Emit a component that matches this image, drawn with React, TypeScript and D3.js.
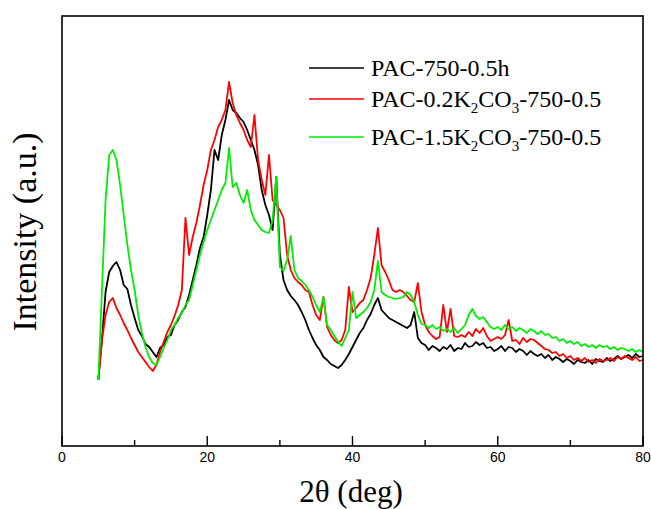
import React from 'react';
import * as d3 from 'd3';

// 2theta grid: 5 .. 80 deg, 0.5 deg step
const angles = d3.range(5, 80.001, 0.5);

const pac750 = [
  66, 106, 154, 174, 180, 184, 176, 161, 157, 141,
  128, 116, 110, 102, 99, 94, 89, 98, 101, 109,
  111, 121, 126, 134, 139, 151, 166, 181, 198, 209,
  231, 256, 296, 286, 311, 326, 346, 336, 333, 328,
  324, 316, 306, 296, 281, 256, 241, 231, 216, 269,
  191, 166, 156, 150, 146, 141, 134, 126, 116, 108,
  101, 96, 89, 86, 82, 80, 78, 81, 86, 92,
  99, 106, 113, 118, 126, 132, 141, 148, 136, 132,
  128, 126, 124, 122, 120, 118, 121, 134, 108, 103,
  101, 96, 100, 98, 95, 99, 97, 101, 95, 98,
  97, 103, 99, 100, 104, 101, 103, 98, 99, 95,
  97, 100, 95, 99, 98, 94, 97, 95, 91, 95,
  92, 90, 92, 88, 91, 86, 89, 87, 84, 87,
  85, 82, 86, 84, 83, 86, 82, 87, 85, 84,
  88, 85, 87, 90, 87, 89, 91, 88, 92, 89,
  90,
];

const pac02K2CO3 = [
  66, 106, 131, 144, 148, 138, 131, 123, 116, 108,
  101, 94, 89, 84, 79, 75, 81, 94, 104, 114,
  121, 130, 141, 156, 228, 191, 209, 223, 241, 261,
  276, 296, 306, 319, 326, 336, 364, 343, 331, 323,
  316, 306, 299, 331, 286, 266, 251, 291, 246, 241,
  236, 228, 191, 176, 168, 164, 161, 156, 154, 141,
  131, 126, 149, 119, 111, 106, 103, 106, 116, 159,
  134, 138, 143, 146, 156, 168, 191, 218, 181, 174,
  166, 156, 154, 156, 154, 150, 146, 144, 163, 134,
  121, 114, 110, 107, 109, 141, 114, 137, 110, 109,
  111, 109, 114, 110, 117, 113, 118, 110, 105, 107,
  109, 107, 111, 126, 105, 106, 102, 108, 104, 107,
  106, 103, 100, 97, 96, 93, 94, 90, 92, 88,
  90, 86, 88, 85, 88, 84, 86, 83, 87, 85,
  86, 88, 85, 89, 87, 90, 88, 86, 89, 85,
  86,
];

const pac15K2CO3 = [
  66, 156, 246, 291, 296, 286, 261, 231, 201, 176,
  156, 131, 113, 99, 89, 83, 81, 89, 98, 106,
  116, 121, 128, 133, 141, 146, 161, 176, 191, 204,
  216, 226, 236, 246, 256, 263, 298, 259, 263, 251,
  243, 256, 236, 226, 221, 216, 214, 213, 226, 269,
  179, 175, 186, 210, 176, 168, 165, 161, 156, 149,
  141, 134, 149, 121, 116, 110, 104, 100, 108, 116,
  154, 128, 131, 134, 138, 144, 156, 185, 154, 151,
  149, 148, 147, 148, 149, 154, 151, 144, 131, 122,
  121, 118, 121, 117, 119, 115, 117, 114, 118, 113,
  117, 121, 131, 137, 130, 127, 129, 124, 119, 117,
  119, 116, 121, 117, 119, 115, 118, 116, 113, 117,
  115, 112, 115, 111, 112, 108, 109, 105, 107, 103,
  105, 102, 104, 100, 102, 99, 101, 98, 101, 99,
  100, 97, 99, 96, 98, 97, 95, 97, 94, 96,
  94,
];

const seriesNames = ['PAC-750-0.5h', 'PAC-0.2K2CO3-750-0.5', 'PAC-1.5K2CO3-750-0.5'];
const seriesColors = ['#000000', '#ff0000', '#00ee00'];
const xTicks = [0, 20, 40, 60, 80];
const xMinorTicks = [10, 30, 50, 70];

const W = 651;
const H = 509;
const left = 62, right = 643, top = 16, bottom = 446;

export default function App() {
  const x = d3.scaleLinear().domain([0, 80]).range([left, right]);
  const y = d3.scaleLinear().domain([0, 430]).range([bottom, top]);

  const all = [pac750, pac02K2CO3, pac15K2CO3];
  const line = d3
    .line<number>()
    .x((_, i) => x(angles[i]))
    .y((d) => y(d));

  const legendY = [68, 99, 137];
  const serif = "'Liberation Serif', 'Times New Roman', serif";

  const label = (name: string) => {
    // render K2CO3 with subscripts
    const m = name.match(/^(.*K)2(CO)3(.*)$/);
    if (!m) return name;
    return (
      <>
        {m[1]}
        <tspan fontSize={15} dy={6}>2</tspan>
        <tspan dy={-6}>{m[2]}</tspan>
        <tspan fontSize={15} dy={6}>3</tspan>
        <tspan dy={-6}>{m[3]}</tspan>
      </>
    );
  };

  return (
    <svg width={W} height={H} style={{ position: 'absolute', left: 0, top: 0, background: '#fff' }}>
      <rect x={0} y={0} width={W} height={H} fill="#fff" />
      {all.map((s, i) => (
        <path key={i} d={line(s) || ''} fill="none" stroke={seriesColors[i]} strokeWidth={1.8} strokeLinejoin="round" />
      ))}
      <rect x={left} y={top} width={right - left} height={bottom - top} fill="none" stroke="#000" strokeWidth={1.6} />
      {xTicks.map((t) => (
        <g key={t}>
          <line x1={x(t)} x2={x(t)} y1={bottom} y2={bottom - 10} stroke="#000" strokeWidth={1.4} />
          <text x={x(t)} y={462} textAnchor="middle" fontFamily="'Liberation Sans', Arial, sans-serif" fontSize={14}>
            {t}
          </text>
        </g>
      ))}
      {xMinorTicks.map((t) => (
        <line key={t} x1={x(t)} x2={x(t)} y1={bottom} y2={bottom - 6} stroke="#000" strokeWidth={1.4} />
      ))}
      <text x={351} y={502} textAnchor="middle" fontFamily={serif} fontSize={31}>
        2θ (deg)
      </text>
      <text transform="translate(36,232) rotate(-90)" textAnchor="middle" fontFamily={serif} fontSize={34}>
        Intensity (a.u.)
      </text>
      {seriesNames.map((n, i) => (
        <g key={n}>
          <line x1={309} x2={364} y1={legendY[i]} y2={legendY[i]} stroke={seriesColors[i]} strokeWidth={1.6} />
          <text x={371} y={legendY[i] + 8} fontFamily={serif} fontSize={24}>
            {label(n)}
          </text>
        </g>
      ))}
    </svg>
  );
}
